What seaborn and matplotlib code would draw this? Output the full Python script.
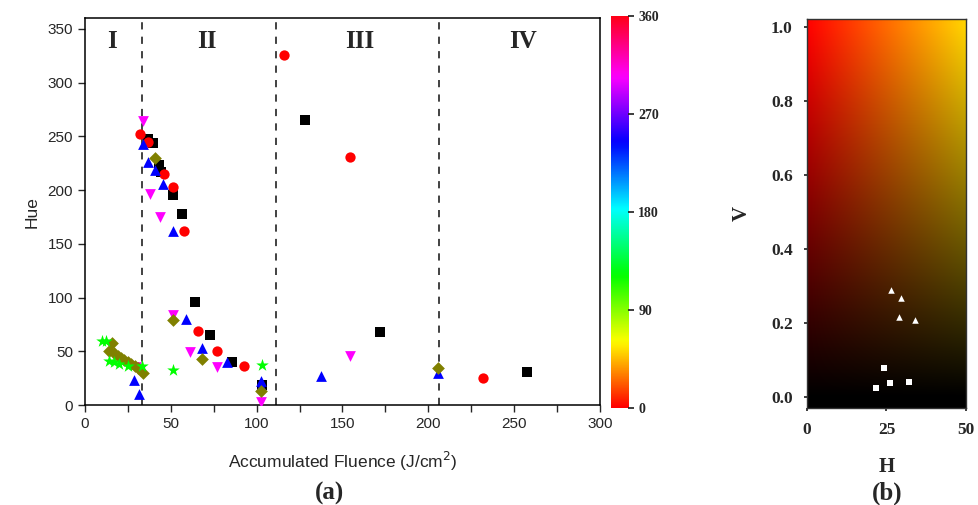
import numpy as np
import pandas as pd
import matplotlib
matplotlib.use("Agg")
import matplotlib.pyplot as plt
import matplotlib.colors as mcolors
import seaborn as sns

# ---- panel (a) data: accumulated fluence vs hue, one array pair per series ----
sq_x = [36.5, 39.4, 42.9, 44.3, 51.0, 56.8, 64.0, 72.9, 85.5, 103.0, 128.4, 171.6, 257.6]
sq_y = [248, 244, 223, 217, 195, 178, 96, 65, 40, 19, 265, 68, 31]

ci_x = [32.3, 37.0, 46.2, 51.4, 57.8, 65.9, 77.1, 92.6, 115.8, 154.5, 231.9]
ci_y = [252, 245, 215, 203, 162, 69, 50, 36, 326, 231, 25]

up_x = [34.0, 36.5, 40.8, 45.2, 51.2, 58.8, 67.9, 82.6, 102.7, 102.7, 28.8, 31.3, 137.5, 205.8]
up_y = [243, 226, 219, 206, 162, 80, 53, 40, 22, 18, 23, 10, 27, 30]

dn_x = [34.0, 38.1, 43.7, 51.0, 61.3, 76.8, 102.7, 30.0, 32.0, 154.5]
dn_y = [264, 196, 175, 84, 49, 35, 3, 35, 32, 46]

di_x = [14, 16, 17, 19, 21, 23, 25, 27, 29, 31, 34, 41.0, 51.0, 67.9, 102.7, 205.8]
di_y = [50, 58, 48, 46, 44, 42, 40, 38, 36, 34, 30, 230, 79, 43, 13, 34]

st_x = [10, 12, 14, 17, 20, 25, 33, 51.0, 102.9]
st_y = [60, 60, 41, 40, 38, 36, 36, 33, 37]

region_edges = [33, 111, 206]
region_labels = ["I", "II", "III", "IV"]
region_pos = [16, 71, 160, 255]

# ---- panel (b) data: H / V of the white markers ----
tri_h = [26.3, 29.4, 28.8, 33.8]
tri_v = [0.29, 0.266, 0.217, 0.208]
sqb_h = [24.1, 26.0, 21.8, 32.1]
sqb_v = [0.079, 0.038, 0.025, 0.041]

serif = "Liberation Serif"
sans = "Liberation Sans"

sns.set_theme(style="ticks")
plt.rcParams["font.family"] = [sans, "DejaVu Sans"]

fig = plt.figure(figsize=(9.79, 5.05), dpi=100)
ax = fig.add_axes([0.0868, 0.198, 0.526, 0.766])
cax = fig.add_axes([0.624, 0.192, 0.0174, 0.776])
bx = fig.add_axes([0.824, 0.192, 0.163, 0.770])

series = [
    (sq_x, sq_y, "s", "black", 42),
    (ci_x, ci_y, "o", "red", 55),
    (up_x, up_y, "^", "blue", 60),
    (dn_x, dn_y, "v", "magenta", 60),
    (di_x, di_y, "D", "olive", 42),
    (st_x, st_y, "*", "lime", 90),
]
for xs, ys, mk, col, sz in series:
    df = pd.DataFrame({"fluence": xs, "hue": ys})
    sns.scatterplot(data=df, x="fluence", y="hue", marker=mk, color=col,
                    s=sz, linewidth=0, ax=ax, zorder=3)

for e in region_edges:
    ax.axvline(e, color="#333333", linestyle=(0, (4, 4)), linewidth=1.3, zorder=2)
for lab, p in zip(region_labels, region_pos):
    ax.text(p, 338, lab, ha="center", va="center", fontsize=18,
            fontweight="bold", family=serif)

ax.set_xlim(0, 300)
ax.set_ylim(0, 360)
ax.set_xticks(np.arange(0, 301, 50))
ax.set_xticks(np.arange(25, 300, 50), minor=True)
ax.set_yticks(np.arange(0, 351, 50))
ax.tick_params(axis="both", which="both", direction="out", length=5,
               width=1, labelsize=11)
ax.set_xlabel("Accumulated Fluence (J/cm$^2$)", fontsize=12.5, labelpad=14)
ax.set_ylabel("Hue", fontsize=12.5, labelpad=6)
for sp in ax.spines.values():
    sp.set_linewidth(1.1)
    sp.set_color("black")

# colour bar for hue
grad = np.linspace(0, 360, 256).reshape(-1, 1)
cax.imshow(grad, aspect="auto", origin="lower", cmap="hsv",
           extent=[0, 1, 0, 360])
cax.set_xticks([])
cax.yaxis.tick_right()
cax.set_yticks([0, 90, 180, 270, 360])
cax.set_ylim(0, 360)
cax.tick_params(axis="y", direction="out", length=4, labelsize=10)
for t in cax.get_yticklabels():
    t.set_fontfamily(serif)
    t.set_fontweight("bold")
for sp in cax.spines.values():
    sp.set_visible(False)

# panel (b): H-V gradient with markers
hh, vv = np.meshgrid(np.linspace(0, 50, 200), np.linspace(-0.03, 1.02, 300))
rgb = mcolors.hsv_to_rgb(np.dstack([hh / 360.0, np.ones_like(hh), np.clip(vv, 0, 1)]))
bx.imshow(rgb, aspect="auto", origin="lower", extent=[0, 50, -0.03, 1.02])
sns.scatterplot(x=tri_h, y=tri_v, marker="^", color="white", s=22,
                linewidth=0, ax=bx, zorder=3)
sns.scatterplot(x=sqb_h, y=sqb_v, marker="s", color="white", s=16,
                linewidth=0, ax=bx, zorder=3)
bx.set_xlim(0, 50)
bx.set_ylim(-0.03, 1.02)
bx.set_xticks([0, 25, 50])
bx.set_yticks([0.0, 0.2, 0.4, 0.6, 0.8, 1.0])
bx.set_yticklabels(["0.0", "0.2", "0.4", "0.6", "0.8", "1.0"])
bx.tick_params(axis="both", length=2, labelsize=12.5, pad=8)
for t in bx.get_xticklabels() + bx.get_yticklabels():
    t.set_fontfamily(serif)
    t.set_fontweight("bold")
bx.set_xlabel("H", fontsize=15, fontweight="bold", family=serif, labelpad=14)
bx.set_ylabel("V", fontsize=15, fontweight="bold", family=serif, labelpad=14)
for sp in bx.spines.values():
    sp.set_linewidth(1)
    sp.set_color("#333333")

fig.text(330 / 979, 1 - 493 / 505, "(a)", ha="center", va="center",
         fontsize=18, fontweight="bold", family=serif)
fig.text(887 / 979, 1 - 493 / 505, "(b)", ha="center", va="center",
         fontsize=18, fontweight="bold", family=serif)

fig.savefig("out.png", dpi=100)
